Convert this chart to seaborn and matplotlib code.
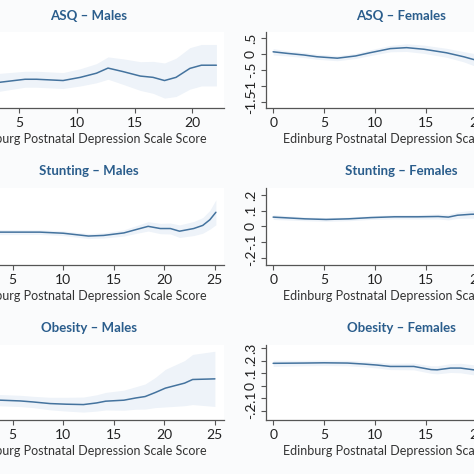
import numpy as np
import matplotlib
matplotlib.use("Agg")
import matplotlib.pyplot as plt
import seaborn as sns

# ---- data (effect estimate and half width of the band) ----
asq_m_x = [0, 1.5, 3.3, 5.5, 6.5, 8.8, 10.3, 11.7, 12.7, 14, 15.5, 16.6, 17.6, 18.6, 19.8, 20.8, 22.1]
asq_m_y = [-0.95, -0.92, -0.885, -0.79, -0.79, -0.83, -0.73, -0.60, -0.44, -0.55, -0.69, -0.73, -0.83, -0.73, -0.45, -0.35, -0.35]
asq_m_hw = [0.35, 0.3, 0.28, 0.25, 0.25, 0.25, 0.27, 0.3, 0.35, 0.4, 0.45, 0.5, 0.55, 0.6, 0.65, 0.65, 0.65]

asq_f_x = [0, 1.4, 3, 4.3, 6.3, 8.1, 9.5, 11.5, 13.1, 14.8, 17, 18.7, 20, 22, 24]
asq_f_y = [0.07, 0.02, -0.03, -0.085, -0.13, -0.06, 0.04, 0.17, 0.2, 0.15, 0.04, -0.085, -0.2, -0.3, -0.35]
asq_f_hw = [0.1, 0.08, 0.08, 0.08, 0.08, 0.08, 0.09, 0.1, 0.12, 0.13, 0.14, 0.16, 0.2, 0.25, 0.3]

stu_m_x = [0, 2, 3.8, 7.7, 10, 12.5, 14, 16, 17.3, 18.4, 19.6, 20.6, 21.5, 22.9, 23.8, 24.5, 25.1]
stu_m_y = [-0.035, -0.036, -0.037, -0.037, -0.044, -0.062, -0.058, -0.042, -0.019, 0.0, -0.014, -0.014, -0.031, -0.014, 0.006, 0.042, 0.09]
stu_m_hw = [0.02, 0.018, 0.016, 0.015, 0.015, 0.016, 0.017, 0.02, 0.025, 0.03, 0.033, 0.035, 0.04, 0.045, 0.05, 0.06, 0.08]

stu_f_x = [0, 3.1, 5.2, 7.4, 9.6, 11.9, 14.2, 16.2, 17.2, 18.1, 19.4, 21, 23, 25]
stu_f_y = [0.059, 0.048, 0.044, 0.048, 0.056, 0.061, 0.061, 0.063, 0.059, 0.071, 0.077, 0.08, 0.085, 0.09]
stu_f_hw = [0.015, 0.012, 0.012, 0.012, 0.012, 0.013, 0.014, 0.016, 0.018, 0.02, 0.025, 0.03, 0.035, 0.04]

obe_m_x = [0, 2, 3.8, 5.75, 7, 8.7, 10.3, 12, 13.3, 14.2, 16, 17.2, 18.1, 19.1, 20.1, 22, 22.8, 25]
obe_m_y = [-0.105, -0.11, -0.114, -0.12, -0.128, -0.141, -0.146, -0.149, -0.136, -0.122, -0.114, -0.096, -0.085, -0.053, -0.018, 0.022, 0.051, 0.056]
obe_m_hw = [0.05, 0.045, 0.045, 0.045, 0.045, 0.05, 0.055, 0.06, 0.065, 0.07, 0.08, 0.09, 0.1, 0.12, 0.15, 0.18, 0.2, 0.22]

obe_f_x = [0, 3, 5, 7.3, 8.9, 10.2, 11.5, 13.8, 15.5, 16.1, 17.4, 18.4, 19.7, 22, 25]
obe_f_y = [0.18, 0.182, 0.184, 0.182, 0.174, 0.166, 0.155, 0.155, 0.13, 0.128, 0.142, 0.142, 0.128, 0.12, 0.11]
obe_f_hw = [0.025, 0.022, 0.022, 0.022, 0.022, 0.023, 0.025, 0.027, 0.03, 0.032, 0.035, 0.038, 0.04, 0.05, 0.06]

titles = ["ASQ \u2013 Males", "ASQ \u2013 Females",
          "Stunting \u2013 Males", "Stunting \u2013 Females",
          "Obesity \u2013 Males", "Obesity \u2013 Females"]
asq_ticks = [-1.5, -1, -0.5, 0, 0.5]
asq_labels = ["-1.5", "-1", "-.5", "0", ".5"]
stu_ticks = [-0.2, -0.1, 0, 0.1, 0.2]
stu_labels = ["-.2", "-.1", "0", ".1", ".2"]
obe_ticks = [-0.2, -0.1, 0, 0.1, 0.2, 0.3]
obe_labels = ["-.2", "-.1", "0", ".1", ".2", ".3"]
x_ticks = [0, 5, 10, 15, 20, 25]
x_label = "Edinburg Postnatal Depression Scale Score"

# ---- style ----
sns.set_theme(style="ticks")
plt.rcParams["font.family"] = ["Lato", "DejaVu Sans"]

LINE = "#44739e"
BAND = "#eef3f9"
TITLE = "#2a5d8c"
AXIS = "#555555"

panels = [
    (asq_m_x, asq_m_y, asq_m_hw, asq_ticks, asq_labels, (-1.69, 0.69), (-0.66, 22.76)),
    (asq_f_x, asq_f_y, asq_f_hw, asq_ticks, asq_labels, (-1.69, 0.69), (-0.7, 25.8)),
    (stu_m_x, stu_m_y, stu_m_hw, stu_ticks, stu_labels, (-0.247, 0.245), (-0.8, 25.9)),
    (stu_f_x, stu_f_y, stu_f_hw, stu_ticks, stu_labels, (-0.247, 0.245), (-0.7, 25.8)),
    (obe_m_x, obe_m_y, obe_m_hw, obe_ticks, obe_labels, (-0.272, 0.326), (-0.8, 25.9)),
    (obe_f_x, obe_f_y, obe_f_hw, obe_ticks, obe_labels, (-0.272, 0.326), (-0.7, 25.8)),
]

W = H = 474
fig = plt.figure(figsize=(4.74, 4.74), dpi=100, facecolor="#fafbfc")

# axes boxes in pixels (left, top, right, bottom), the picture is a crop of a wider figure
col_px = [(-46, 224), (266, 536)]
row_px = [(32, 108), (188, 265), (345, 420)]

for i, (px, py, hw, yt, yl, ylim, xlim) in enumerate(panels):
    r, c = divmod(i, 2)
    l, rr = col_px[c]
    t, b = row_px[r]
    ax = fig.add_axes([l / W, 1 - b / H, (rr - l) / W, (b - t) / H])
    ax.set_facecolor("white")

    x = np.array(px)
    y = np.array(py)
    h = np.array(hw)
    ax.fill_between(x, y - h, y + h, color=BAND, lw=0)
    sns.lineplot(x=x, y=y, ax=ax, color=LINE, lw=1.1, estimator=None)

    ax.set_xlim(*xlim)
    ax.set_ylim(*ylim)
    ax.set_xticks([v for v in x_ticks if v <= xlim[1]])
    ax.set_yticks(yt)
    ax.set_yticklabels(yl, rotation=90, va="center")
    ax.tick_params(axis="both", length=3.5, width=0.8, color=AXIS,
                   labelsize=10, labelcolor="#222222", pad=3)
    for s in ["top", "right"]:
        ax.spines[s].set_visible(False)
    for s in ["left", "bottom"]:
        ax.spines[s].set_color(AXIS)
        ax.spines[s].set_linewidth(0.9)
    ax.set_xlabel(x_label, fontsize=9, color="#333333", labelpad=3)
    ax.set_ylabel("")
    ax.set_title(titles[i], fontsize=9.5, fontweight="bold", color=TITLE, pad=9)

fig.savefig("out.png", dpi=100, facecolor=fig.get_facecolor())
